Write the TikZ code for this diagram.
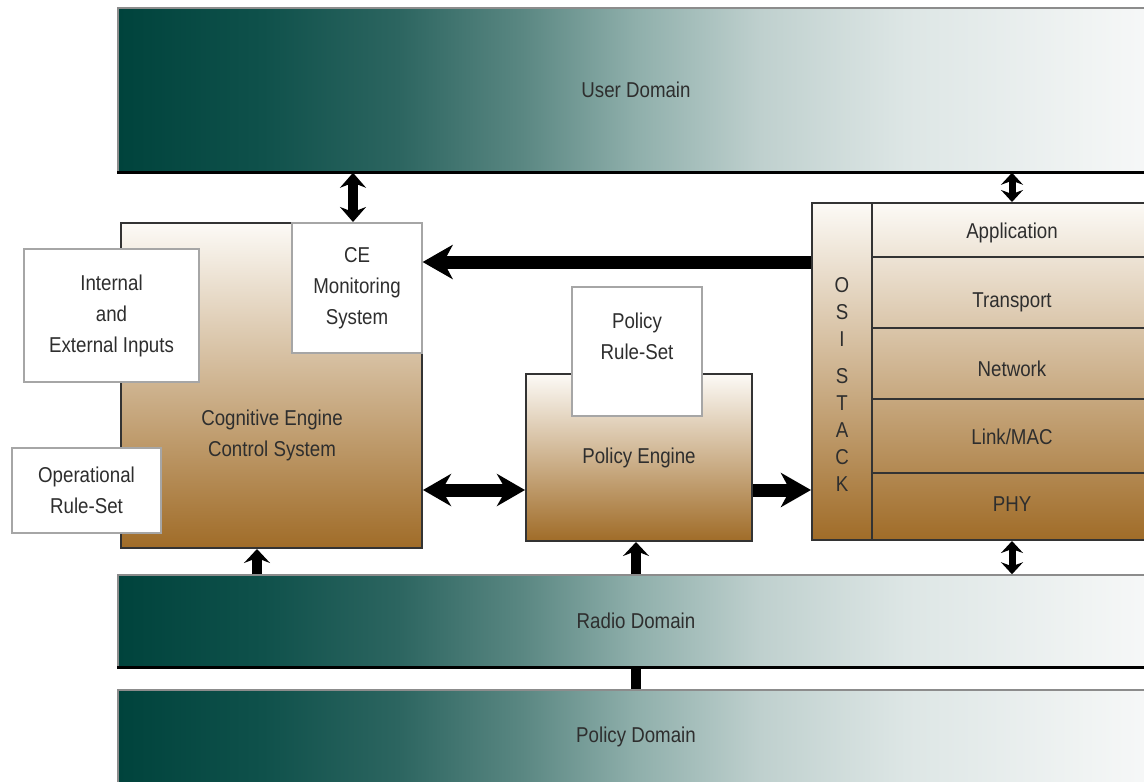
\documentclass[tikz,border=0pt]{standalone}
\usepackage{fontspec}
\setmainfont{Liberation Sans}[FakeStretch=0.87]
\usetikzlibrary{arrows.meta}

\definecolor{tealA}{HTML}{00433C}
\definecolor{tealB}{HTML}{0F514B}
\definecolor{tealC}{HTML}{2C6560}
\definecolor{tealD}{HTML}{5A8782}
\definecolor{tealE}{HTML}{8FAFAB}
\definecolor{tealF}{HTML}{BFD0CE}
\definecolor{tealG}{HTML}{DDE6E5}
\definecolor{tealH}{HTML}{F7F8F8}
\definecolor{creamtop}{HTML}{FCFAF6}
\definecolor{brownbot}{HTML}{A06C28}

\pgfdeclarehorizontalshading{tealfade}{100bp}{color(0bp)=(tealA); color(25bp)=(tealA);
  color(32bp)=(tealB); color(38.5bp)=(tealC); color(44.5bp)=(tealD); color(50bp)=(tealE);
  color(56bp)=(tealF); color(63bp)=(tealG); color(75bp)=(tealH); color(100bp)=(tealH)}
\pgfdeclareverticalshading{brownfade}{100bp}{color(0bp)=(brownbot); color(25bp)=(brownbot);
  color(75bp)=(creamtop); color(100bp)=(creamtop)}

\begin{document}
\begin{tikzpicture}[x=1pt, y=-1pt,
  every node/.style={font=\fontsize{21.5}{31}\selectfont, text=black!82, align=center},
  band/.style={shade, shading=tealfade, draw=black!45, line width=1.5pt, minimum width=1036pt, inner sep=0pt},
  brownbox/.style={shade, shading=brownfade, draw=black!80, line width=2pt, inner sep=0pt},
  whitebox/.style={fill=white, draw=black!35, line width=1.2pt, inner sep=0pt},
  bigarrow/.style={line width=13pt, -{Stealth[length=30pt, width=34pt, inset=9pt]}},
  twoway/.style={line width=13pt, {Stealth[length=28pt, width=32pt, inset=9pt]}-{Stealth[length=28pt, width=32pt, inset=9pt]}},
  stub/.style={line width=10pt, -{Stealth[length=14pt, width=26pt, inset=5pt]}},
  stubtwo/.style={line width=10pt, {Stealth[length=15pt, width=26pt, inset=5pt]}-{Stealth[length=15pt, width=26pt, inset=5pt]}},
  tinytwo/.style={line width=7pt, {Stealth[length=12pt, width=22pt, inset=4pt]}-{Stealth[length=12pt, width=22pt, inset=4pt]}}]
\useasboundingbox (0,0) rectangle (1144,782);

% Domains
\node[band, minimum height=164pt] (user) at (636,90) {User Domain};
\node[band, minimum height=92pt] (radio) at (636,621) {Radio Domain};
\node[band, minimum height=94pt] (policy) at (636,737) {Policy Domain};
\foreach \b in {user,radio,policy}
  \draw[line width=3pt] (\b.south west) -- (\b.south east);

% Cognitive engine
\node[brownbox, minimum width=301pt, minimum height=325pt] (ce) at (271.5,385.5) {};
\node (cetext) at (272,435) {Cognitive Engine\\Control System};
\node[whitebox, minimum width=130pt, minimum height=130pt] (cemon) at (357,288) {CE\\Monitoring\\System};
\node[whitebox, minimum width=175pt, minimum height=133pt] (inputs) at (111.5,315.5) {Internal\\and\\External Inputs};
\node[whitebox, minimum width=149pt, minimum height=85pt] (oprules) at (86.5,490.5) {Operational\\Rule-Set};

% Policy engine
\node[brownbox, minimum width=226pt, minimum height=167pt] (pe) at (639,457.5) {Policy Engine};
\node[whitebox, minimum width=130pt, minimum height=129pt] (perules) at (637,351.5) {};
\node (petext) at (637,336) {Policy\\Rule-Set};

% OSI stack
\node[brownbox, minimum width=348pt, minimum height=337pt] (osi) at (986,371.5) {};
\node[draw=black!80, line width=2pt, minimum width=60pt, minimum height=337pt] (osicol) at (842,371.5) {};
\node[font=\fontsize{21.5}{27}\selectfont] (osiletters) at (842,384) {O\\S\\I\\[10pt]S\\T\\A\\C\\K};
\foreach \y in {257,328,399,473}
  \draw[line width=2pt, black!80] (osicol.east |- 0,\y) -- (osi.east |- 0,\y);
\node (app) at (1012,233) {Application};
\node (trans) at (1012,302) {Transport};
\node (net) at (1012,369) {Network};
\node (link) at (1012,437) {Link/MAC};
\node (phy) at (1012,504) {PHY};

% Arrows
\draw[bigarrow] (osi.west |- 0,262) -- (cemon.east |- 0,262);
\draw[twoway] (ce.east |- 0,490) -- (pe.west |- 0,490);
\draw[bigarrow] (pe.east |- 0,490) -- (osi.west |- 0,490);
\draw[stubtwo] (user.south -| 353,0) -- (ce.north -| 353,0);
\draw[tinytwo] (user.south -| 1012,0) -- (osi.north -| 1012,0);
\draw[tinytwo] (osi.south -| 1012,0) -- (radio.north -| 1012,0);
\draw[stub] (radio.north -| 257,0) -- (ce.south -| 257,0);
\draw[stub] (radio.north -| 636,0) -- (pe.south -| 636,0);
\draw[line width=10pt] (radio.south -| 636,0) -- (policy.north -| 636,0);
\end{tikzpicture}
\end{document}
